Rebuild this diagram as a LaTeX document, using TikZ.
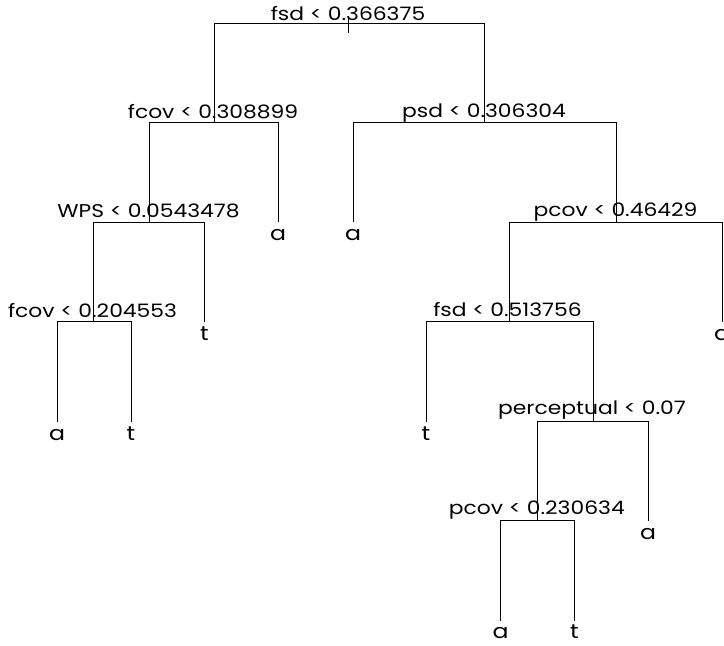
\documentclass[tikz,border=0pt]{standalone}
\usepackage{fontspec}
\setmainfont{Poppins}[FakeStretch=1.18]
\tikzset{
  edge/.style={draw=black, line width=1pt, line cap=rect},
  lbl/.style={anchor=base, inner sep=0pt, font=\fontsize{18.5}{22}\selectfont},
  leaflbl/.style={anchor=base, inner sep=0pt, font=\fontsize{20}{24}\selectfont},
}
\begin{document}
\begin{tikzpicture}[x=1pt,y=-1pt]
\useasboundingbox (0,0) rectangle (724,646);
% split nodes
\coordinate (root) at (348.5,23.3);
\coordinate (rtop) at (348.5,16.7);
\coordinate (rbot) at (348.5,32.3);
\coordinate (n1) at (214,122.7);
\coordinate (n2) at (484,122.7);
\coordinate (n3) at (149.5,222.3);
\coordinate (n4) at (616,222.3);
\coordinate (n5) at (93.5,321.7);
\coordinate (n6) at (509.5,321.7);
\coordinate (n7) at (593,421.7);
\coordinate (n8) at (537.3,520.7);
% leaves
\coordinate (lA1) at (278,221.7);
\coordinate (lA2) at (353,221.7);
\coordinate (lT1) at (204.5,321.7);
\coordinate (lA4) at (722,321.7);
\coordinate (lA3) at (57,421.7);
\coordinate (lT2) at (131,421.7);
\coordinate (lT3) at (426,421.7);
\coordinate (lA5) at (648,520.7);
\coordinate (lA6) at (500.7,620);
\coordinate (lT4) at (574.3,620);
% connectors
\draw[edge] (rtop) -- (rbot);
\draw[edge] (n1) |- (root) -| (n2);
\draw[edge] (n3) |- (n1) -| (lA1);
\draw[edge] (lA2) |- (n2) -| (n4);
\draw[edge] (n5) |- (n3) -| (lT1);
\draw[edge] (lA3) |- (n5) -| (lT2);
\draw[edge] (n6) |- (n4) -| (lA4);
\draw[edge] (lT3) |- (n6) -| (n7);
\draw[edge] (n8) |- (n7) -| (lA5);
\draw[edge] (lA6) |- (n8) -| (lT4);
% split labels
\node[lbl] (t0) at (348,20.5) {fsd < 0.366375};
\node[lbl] (t1) at (213,118) {fcov < 0.308899};
\node[lbl] (t2) at (484,117) {psd < 0.306304};
\node[lbl] (t3) at (148.5,217.5) {WPS < 0.0543478};
\node[lbl] (t4) at (615.5,216.8) {pcov < 0.46429};
\node[lbl] (t5) at (92.5,317.3) {fcov < 0.204553};
\node[lbl] (t6) at (507.5,316.7) {fsd < 0.513756};
\node[lbl] (t7) at (592,414.5) {perceptual < 0.07};
\node[lbl] (t8) at (536.8,514) {pcov < 0.230634};
% leaf labels
\node[leaflbl] (a1) at ([yshift=-18.5pt]lA1) {a};
\node[leaflbl] (a2) at ([yshift=-18.5pt]lA2) {a};
\node[leaflbl] (t1l) at ([yshift=-18.5pt]lT1) {t};
\node[leaflbl] (a4) at ([yshift=-18.5pt]lA4) {a};
\node[leaflbl] (a3) at ([yshift=-18.5pt]lA3) {a};
\node[leaflbl] (t2l) at ([yshift=-18.5pt]lT2) {t};
\node[leaflbl] (t3l) at ([yshift=-18.5pt]lT3) {t};
\node[leaflbl] (a5) at ([yshift=-18.5pt]lA5) {a};
\node[leaflbl] (a6) at ([yshift=-18.5pt]lA6) {a};
\node[leaflbl] (t4l) at ([yshift=-18.5pt]lT4) {t};
\end{tikzpicture}
\end{document}
